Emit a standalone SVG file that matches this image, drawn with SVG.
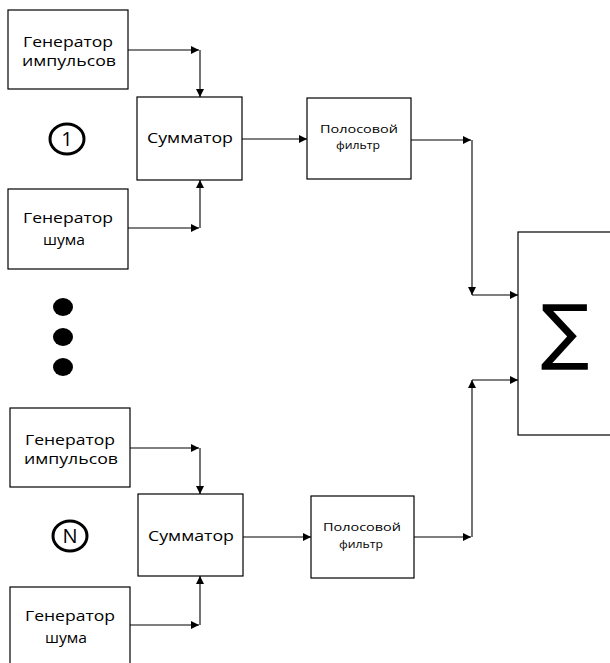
<svg xmlns="http://www.w3.org/2000/svg" width="610" height="663" viewBox="0 0 610 663">
<style>
.box{fill:#fff;stroke:#000;stroke-width:1.2}
.t{font-family:"Open Sans","Liberation Sans",sans-serif;font-size:14px;fill:#000;text-anchor:middle}
.s{font-family:"Open Sans","Liberation Sans",sans-serif;font-size:10.5px;fill:#000;text-anchor:middle}
.n{font-family:"Open Sans","Liberation Sans",sans-serif;font-size:20px;fill:#000;text-anchor:middle}
.c{fill:none;stroke:#000;stroke-width:1.1}
</style>
<defs>
<marker id="ah" viewBox="0 0 10 10" refX="10" refY="5" markerWidth="8" markerHeight="8" markerUnits="userSpaceOnUse" orient="auto">
<path d="M0,0 L10,5 L0,10 Z" fill="#000"/>
</marker>
</defs>
<rect width="610" height="663" fill="#fff"/>
<g id="connectors">
<path class="c" d="M128,50 H199" marker-end="url(#ah)"/>
<path class="c" d="M200,50 V97" marker-end="url(#ah)"/>
<path class="c" d="M128,228 H199" marker-end="url(#ah)"/>
<path class="c" d="M200,228 V180" marker-end="url(#ah)"/>
<path class="c" d="M242,139 H307" marker-end="url(#ah)"/>
<path class="c" d="M411,140 H471" marker-end="url(#ah)"/>
<path class="c" d="M472,140 V295" marker-end="url(#ah)"/>
<path class="c" d="M472,295 H518" marker-end="url(#ah)"/>
<path class="c" d="M130,448 H199" marker-end="url(#ah)"/>
<path class="c" d="M200,448 V494" marker-end="url(#ah)"/>
<path class="c" d="M130,625 H199" marker-end="url(#ah)"/>
<path class="c" d="M200,625 V576" marker-end="url(#ah)"/>
<path class="c" d="M243,537 H311" marker-end="url(#ah)"/>
<path class="c" d="M414,537 H471" marker-end="url(#ah)"/>
<path class="c" d="M472,537 V380" marker-end="url(#ah)"/>
<path class="c" d="M472,380 H518" marker-end="url(#ah)"/>
</g>
<g id="gen-imp-1">
<rect class="box" x="8" y="10" width="120" height="79"/>
<text class="t" x="68" y="47" textLength="90" lengthAdjust="spacingAndGlyphs">Генератор</text>
<text class="t" x="69" y="66" textLength="94" lengthAdjust="spacingAndGlyphs">импульсов</text>
</g>
<g id="label-1">
<ellipse cx="67" cy="139" rx="17" ry="15" fill="none" stroke="#000" stroke-width="3"/>
<text class="n" x="67" y="146">1</text>
</g>
<g id="sum-1">
<rect class="box" x="137" y="97" width="105" height="83"/>
<text class="t" x="190" y="143" textLength="86" lengthAdjust="spacingAndGlyphs">Сумматор</text>
</g>
<g id="gen-noise-1">
<rect class="box" x="8" y="189" width="120" height="80"/>
<text class="t" x="68" y="223" textLength="90" lengthAdjust="spacingAndGlyphs">Генератор</text>
<text class="t" x="64" y="245" textLength="42" lengthAdjust="spacingAndGlyphs">шума</text>
</g>
<g id="filter-1">
<rect class="box" x="307" y="98" width="104" height="81"/>
<text class="s" x="359" y="133" textLength="78" lengthAdjust="spacingAndGlyphs">Полосовой</text>
<text class="s" x="358" y="149" textLength="44" lengthAdjust="spacingAndGlyphs">фильтр</text>
</g>
<g id="dots">
<ellipse cx="63" cy="307" rx="10" ry="9"/>
<ellipse cx="63" cy="337" rx="10" ry="9"/>
<ellipse cx="63" cy="367" rx="10" ry="9"/>
</g>
<g id="sigma">
<rect class="box" x="518" y="232" width="100" height="203"/>
<text x="565" y="356" font-family="DejaVu Sans,sans-serif" font-size="72" text-anchor="middle" fill="#000">∑</text>
</g>
<g id="gen-imp-N">
<rect class="box" x="10" y="408" width="120" height="79"/>
<text class="t" x="70" y="445" textLength="90" lengthAdjust="spacingAndGlyphs">Генератор</text>
<text class="t" x="71" y="464" textLength="94" lengthAdjust="spacingAndGlyphs">импульсов</text>
</g>
<g id="label-N">
<ellipse cx="70" cy="536" rx="17" ry="15" fill="none" stroke="#000" stroke-width="3"/>
<text class="n" x="70" y="543">N</text>
</g>
<g id="sum-N">
<rect class="box" x="138" y="494" width="105" height="82"/>
<text class="t" x="191" y="541" textLength="86" lengthAdjust="spacingAndGlyphs">Сумматор</text>
</g>
<g id="gen-noise-N">
<rect class="box" x="10" y="587" width="120" height="90"/>
<text class="t" x="70" y="621" textLength="90" lengthAdjust="spacingAndGlyphs">Генератор</text>
<text class="t" x="66" y="643" textLength="42" lengthAdjust="spacingAndGlyphs">шума</text>
</g>
<g id="filter-N">
<rect class="box" x="311" y="496" width="103" height="82"/>
<text class="s" x="362" y="531" textLength="78" lengthAdjust="spacingAndGlyphs">Полосовой</text>
<text class="s" x="361" y="548" textLength="44" lengthAdjust="spacingAndGlyphs">фильтр</text>
</g>
</svg>
